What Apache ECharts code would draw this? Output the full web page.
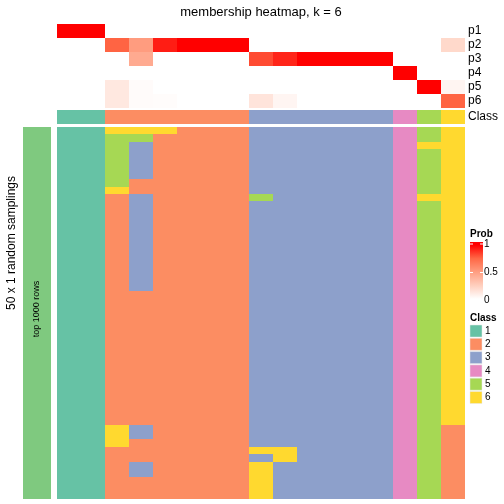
<!DOCTYPE html>
<html><head><meta charset="utf-8">
<script src="https://cdn.jsdelivr.net/npm/echarts@6/dist/echarts.min.js"></script>
<style>html,body{margin:0;padding:0;background:#fff}#c{width:504px;height:504px}</style>
</head><body><div id="c"></div>
<script>
// ---- data ----
const probLabels = ['p1','p2','p3','p4','p5','p6'];
const p1 = [1,1,0,0,0,0,0,0,0,0,0,0,0,0,0,0,0];
const p2 = [0,0,0.76,0.51,0.93,1,1,1,0,0,0,0,0,0,0,0,0.2];
const p3 = [0,0,0,0.44,0,0,0,0,0.82,0.91,1,1,1,1,0,0,0];
const p4 = [0,0,0,0,0,0,0,0,0,0,0,0,0,0,1,0,0];
const p5 = [0,0,0.12,0.02,0,0,0,0,0,0,0,0,0,0,0,1,0.05];
const p6 = [0,0,0.12,0.02,0.015,0,0,0,0.14,0.05,0,0,0,0,0,0,0.76];
const columnClass = [1,1,2,2,2,2,2,2,3,3,3,3,3,3,4,5,6];
const classLabels = ['1','2','3','4','5','6'];
const classColors = ['#66C2A5','#FC8D62','#8DA0CB','#E78AC3','#A6D854','#FFD92F'];
// 50 random samplings (rows) x 17 columns, class membership
const memberRows = [
[1,1,6,6,6,2,2,2,3,3,3,3,3,3,4,5,6],
[1,1,5,5,2,2,2,2,3,3,3,3,3,3,4,5,6],
[1,1,5,3,2,2,2,2,3,3,3,3,3,3,4,6,6],
[1,1,5,3,2,2,2,2,3,3,3,3,3,3,4,5,6],
[1,1,5,3,2,2,2,2,3,3,3,3,3,3,4,5,6],
[1,1,5,3,2,2,2,2,3,3,3,3,3,3,4,5,6],
[1,1,5,3,2,2,2,2,3,3,3,3,3,3,4,5,6],
[1,1,5,2,2,2,2,2,3,3,3,3,3,3,4,5,6],
[1,1,6,2,2,2,2,2,3,3,3,3,3,3,4,5,6],
[1,1,2,3,2,2,2,2,5,3,3,3,3,3,4,6,6],
[1,1,2,3,2,2,2,2,3,3,3,3,3,3,4,5,6],
[1,1,2,3,2,2,2,2,3,3,3,3,3,3,4,5,6],
[1,1,2,3,2,2,2,2,3,3,3,3,3,3,4,5,6],
[1,1,2,3,2,2,2,2,3,3,3,3,3,3,4,5,6],
[1,1,2,3,2,2,2,2,3,3,3,3,3,3,4,5,6],
[1,1,2,3,2,2,2,2,3,3,3,3,3,3,4,5,6],
[1,1,2,3,2,2,2,2,3,3,3,3,3,3,4,5,6],
[1,1,2,3,2,2,2,2,3,3,3,3,3,3,4,5,6],
[1,1,2,3,2,2,2,2,3,3,3,3,3,3,4,5,6],
[1,1,2,3,2,2,2,2,3,3,3,3,3,3,4,5,6],
[1,1,2,3,2,2,2,2,3,3,3,3,3,3,4,5,6],
[1,1,2,3,2,2,2,2,3,3,3,3,3,3,4,5,6],
[1,1,2,2,2,2,2,2,3,3,3,3,3,3,4,5,6],
[1,1,2,2,2,2,2,2,3,3,3,3,3,3,4,5,6],
[1,1,2,2,2,2,2,2,3,3,3,3,3,3,4,5,6],
[1,1,2,2,2,2,2,2,3,3,3,3,3,3,4,5,6],
[1,1,2,2,2,2,2,2,3,3,3,3,3,3,4,5,6],
[1,1,2,2,2,2,2,2,3,3,3,3,3,3,4,5,6],
[1,1,2,2,2,2,2,2,3,3,3,3,3,3,4,5,6],
[1,1,2,2,2,2,2,2,3,3,3,3,3,3,4,5,6],
[1,1,2,2,2,2,2,2,3,3,3,3,3,3,4,5,6],
[1,1,2,2,2,2,2,2,3,3,3,3,3,3,4,5,6],
[1,1,2,2,2,2,2,2,3,3,3,3,3,3,4,5,6],
[1,1,2,2,2,2,2,2,3,3,3,3,3,3,4,5,6],
[1,1,2,2,2,2,2,2,3,3,3,3,3,3,4,5,6],
[1,1,2,2,2,2,2,2,3,3,3,3,3,3,4,5,6],
[1,1,2,2,2,2,2,2,3,3,3,3,3,3,4,5,6],
[1,1,2,2,2,2,2,2,3,3,3,3,3,3,4,5,6],
[1,1,2,2,2,2,2,2,3,3,3,3,3,3,4,5,6],
[1,1,2,2,2,2,2,2,3,3,3,3,3,3,4,5,6],
[1,1,6,3,2,2,2,2,3,3,3,3,3,3,4,5,2],
[1,1,6,3,2,2,2,2,3,3,3,3,3,3,4,5,2],
[1,1,6,2,2,2,2,2,3,3,3,3,3,3,4,5,2],
[1,1,2,2,2,2,2,2,6,6,3,3,3,3,4,5,2],
[1,1,2,2,2,2,2,2,3,6,3,3,3,3,4,5,2],
[1,1,2,3,2,2,2,2,6,3,3,3,3,3,4,5,2],
[1,1,2,3,2,2,2,2,6,3,3,3,3,3,4,5,2],
[1,1,2,2,2,2,2,2,6,3,3,3,3,3,4,5,2],
[1,1,2,2,2,2,2,2,6,3,3,3,3,3,4,5,2],
[1,1,2,2,2,2,2,2,6,3,3,3,3,3,4,5,2]
];
const legendProbTicks = ['1','0.5','0'];
const titleText = 'membership heatmap, k = 6';
const sideLabel = '50 x 1 random samplings';
const barLabel = 'top 1000 rows';

// ---- build ----
const cols = columnClass.map((_, i) => String(i));
const probAll = [p1,p2,p3,p4,p5,p6];
const probData = [];
probAll.forEach((arr, r) => arr.forEach((v, c) => probData.push([c, r, v])));
const classData = columnClass.map((v, c) => [c, 0, v]);
const memData = [];
memberRows.forEach((row, r) => row.forEach((v, c) => memData.push([c, r, v])));
const rowIdx = memberRows.map((_, i) => String(i));

const FONT = 'Liberation Sans, Arial, sans-serif';
const L = 57, W = 408;
const probStops = ['#FFFFFF','#FFCFBE','#FF9E81','#FF6846','#FF0000'];

// cell renderer snapped to whole pixels so neighbouring cells have no seams
function cell(params, api) {
  const p = api.coord([api.value(0), api.value(1)]);
  const s = api.size([1, 1]);
  const x0 = Math.round(p[0] - s[0] / 2), x1 = Math.round(p[0] + s[0] / 2);
  const y0 = Math.round(p[1] - s[1] / 2), y1 = Math.round(p[1] + s[1] / 2);
  return {type:'rect', shape:{x:x0, y:y0, width:x1 - x0, height:y1 - y0},
    style:{fill: api.visual('color')}};
}

const chart = echarts.init(document.getElementById('c'), null, {renderer: 'canvas'});
const hiddenX = (gi) => ({type:'category', gridIndex: gi, data: cols, show: false});
const graphics = [];
graphics.push({type:'text', x: 261, y: 12, style:{text: titleText, font: '13px ' + FONT, fill:'#000', align:'center', verticalAlign:'middle'}});
graphics.push({type:'text', x: 12, y: 243, rotation: Math.PI/2, style:{text: sideLabel, font: '12px ' + FONT, fill:'#000', align:'center', verticalAlign:'middle'}});
graphics.push({type:'rect', shape:{x: 23, y: 127, width: 28, height: 372}, style:{fill:'#7FC97F'}});
graphics.push({type:'text', x: 37, y: 309, rotation: Math.PI/2, style:{text: barLabel, font: '9px ' + FONT, fill:'#000', align:'center', verticalAlign:'middle'}});
// Prob legend
graphics.push({type:'text', x: 470, y: 234, style:{text:'Prob', font:'bold 10px ' + FONT, fill:'#000', align:'left', verticalAlign:'middle'}});
graphics.push({type:'rect', shape:{x: 470, y: 242, width: 13, height: 60},
  style:{fill: new echarts.graphic.LinearGradient(0,0,0,1, probStops.slice().reverse().map((c,i)=>({offset: 0.05 + i*0.9/4, color: c})))}});
const tickY = [244, 272.5, 300];
legendProbTicks.forEach((t, i) => {
  graphics.push({type:'text', x: 484, y: tickY[i], style:{text: t, font:'10px ' + FONT, fill:'#000', align:'left', verticalAlign:'middle'}});
  if (i < 2) {
    graphics.push({type:'line', shape:{x1:470, y1:tickY[i], x2:473, y2:tickY[i]}, style:{stroke:'#fff', lineWidth:1}});
    graphics.push({type:'line', shape:{x1:480, y1:tickY[i], x2:483, y2:tickY[i]}, style:{stroke:'#fff', lineWidth:1}});
  }
});
// Class legend
graphics.push({type:'text', x: 470, y: 318, style:{text:'Class', font:'bold 10px ' + FONT, fill:'#000', align:'left', verticalAlign:'middle'}});
classLabels.forEach((t, i) => {
  const y = 325 + i * 13.3;
  graphics.push({type:'rect', shape:{x: 470, y: y, width: 12, height: 12}, style:{fill: classColors[i], stroke:'#e8e8e8', lineWidth: 0.5}});
  graphics.push({type:'text', x: 485, y: y + 6, style:{text: t, font:'10px ' + FONT, fill:'#000', align:'left', verticalAlign:'middle'}});
});

const rightLabel = {margin:3, fontSize:12, fontFamily: FONT, color:'#000', interval: 0};
chart.setOption({
  animation: false,
  backgroundColor: '#fff',
  grid: [
    {left: L, top: 24, width: W, height: 84},
    {left: L, top: 110, width: W, height: 14},
    {left: L, top: 127, width: W, height: 372}
  ],
  xAxis: [hiddenX(0), hiddenX(1), hiddenX(2)],
  yAxis: [
    {type:'category', gridIndex:0, data: probLabels, inverse: true, position:'right',
      axisLine:{show:false}, axisTick:{show:false}, splitLine:{show:false}, axisLabel: rightLabel},
    {type:'category', gridIndex:1, data: ['Class'], position:'right',
      axisLine:{show:false}, axisTick:{show:false}, splitLine:{show:false}, axisLabel: rightLabel},
    {type:'category', gridIndex:2, data: rowIdx, inverse: true, show:false}
  ],
  visualMap: [
    {type:'continuous', min:0, max:1, dimension:2, seriesIndex:0, show:false, inRange:{color: probStops}},
    {type:'piecewise', dimension:2, seriesIndex:[1,2], show:false,
      pieces: classLabels.map((l, i) => ({value: Number(l), color: classColors[i]}))}
  ],
  series: [
    {type:'custom', xAxisIndex:0, yAxisIndex:0, data: probData, encode:{x:0, y:1}, renderItem: cell},
    {type:'custom', xAxisIndex:1, yAxisIndex:1, data: classData, encode:{x:0, y:1}, renderItem: cell},
    {type:'custom', xAxisIndex:2, yAxisIndex:2, data: memData, encode:{x:0, y:1}, renderItem: cell}
  ],
  graphic: graphics
});
</script>
</body></html>
